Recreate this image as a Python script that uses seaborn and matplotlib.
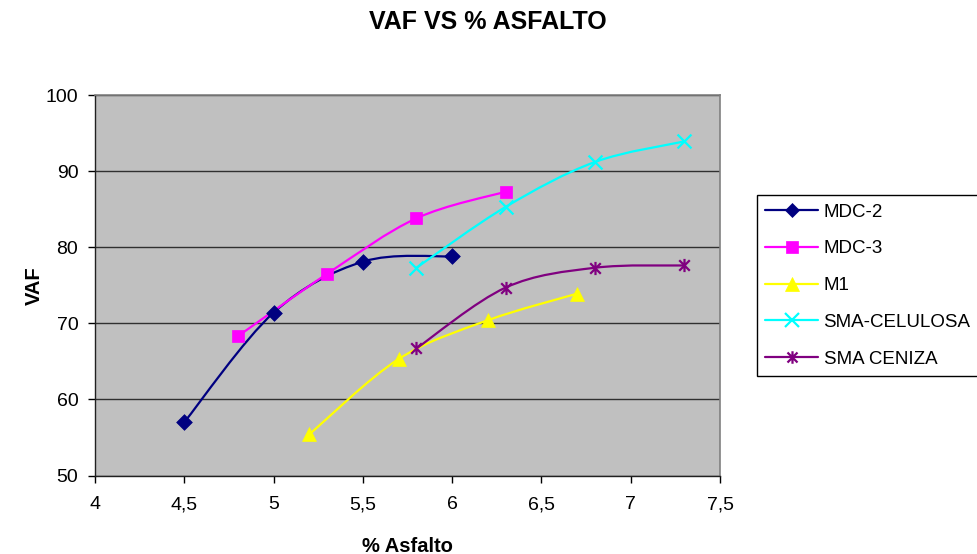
import numpy as np
import pandas as pd
import seaborn as sns
import matplotlib
matplotlib.use("Agg")
import matplotlib.pyplot as plt
from matplotlib.path import Path
from matplotlib.patches import PathPatch
from matplotlib.lines import Line2D

# Data: % asphalt vs VAF for each mix
series_names = ["MDC-2", "MDC-3", "M1", "SMA-CELULOSA", "SMA CENIZA"]
mdc2_x = [4.5, 5.0, 5.5, 6.0]
mdc2_y = [57.0, 71.4, 78.1, 78.8]
mdc3_x = [4.8, 5.3, 5.8, 6.3]
mdc3_y = [68.3, 76.5, 83.8, 87.3]
m1_x = [5.2, 5.7, 6.2, 6.7]
m1_y = [55.4, 65.3, 70.4, 73.9]
celulosa_x = [5.8, 6.3, 6.8, 7.3]
celulosa_y = [77.3, 85.3, 91.2, 93.9]
ceniza_x = [5.8, 6.3, 6.8, 7.3]
ceniza_y = [66.7, 74.7, 77.3, 77.6]

x_ticks = [4, 4.5, 5, 5.5, 6, 6.5, 7, 7.5]
x_tick_labels = ["4", "4,5", "5", "5,5", "6", "6,5", "7", "7,5"]
y_ticks = [50, 60, 70, 80, 90, 100]

xs = [mdc2_x, mdc3_x, m1_x, celulosa_x, ceniza_x]
ys = [mdc2_y, mdc3_y, m1_y, celulosa_y, ceniza_y]

df = pd.concat(
    [pd.DataFrame({"x": x, "y": y, "serie": n}) for n, x, y in zip(series_names, xs, ys)],
    ignore_index=True,
)

colors = {"MDC-2": "#000080", "MDC-3": "#FF00FF", "M1": "#FFFF00",
          "SMA-CELULOSA": "#00FFFF", "SMA CENIZA": "#800080"}

# Star marker: an X crossed by a vertical bar
star = Path([(-1, -1), (1, 1), (-1, 1), (1, -1), (0, -1.25), (0, 1.25)],
            [Path.MOVETO, Path.LINETO, Path.MOVETO, Path.LINETO, Path.MOVETO, Path.LINETO])
markers = {"MDC-2": "D", "MDC-3": "s", "M1": "^", "SMA-CELULOSA": "x", "SMA CENIZA": star}
msizes = {"MDC-2": 8, "MDC-3": 8.5, "M1": 10, "SMA-CELULOSA": 10, "SMA CENIZA": 9.5}
filled_series = ("MDC-2", "MDC-3", "M1")

sns.set_theme(style="white")
plt.rcParams["font.family"] = ["Liberation Sans", "DejaVu Sans"]
plt.rcParams["text.color"] = "black"
plt.rcParams["axes.labelcolor"] = "black"
plt.rcParams["xtick.color"] = "black"
plt.rcParams["ytick.color"] = "black"

W, H = 977, 554
fig = plt.figure(figsize=(W / 100, H / 100), dpi=100)
ax = fig.add_axes([95 / W, 1 - 475.5 / H, 625 / W, 380.5 / H])
ax.set_facecolor("#C0C0C0")


def smooth_path(x, y):
    """Cubic Bezier path through the points (Catmull-Rom style tangents)."""
    p = np.column_stack([x, y]).astype(float)
    verts = [tuple(p[0])]
    codes = [Path.MOVETO]
    n = len(p)
    for i in range(n - 1):
        p0 = p[i - 1] if i > 0 else p[i]
        p1, p2 = p[i], p[i + 1]
        p3 = p[i + 2] if i + 2 < n else p[i + 1]
        c1 = p1 + (p2 - p0) / 6.0
        c2 = p2 - (p3 - p1) / 6.0
        verts += [tuple(c1), tuple(c2), tuple(p2)]
        codes += [Path.CURVE4] * 3
    return Path(verts, codes)


for name, x, y in zip(series_names, xs, ys):
    ax.add_patch(PathPatch(smooth_path(x, y), facecolor="none",
                           edgecolor=colors[name], lw=1.6, zorder=3))

for name in series_names:
    sub = df[df["serie"] == name]
    filled = name in filled_series
    sns.scatterplot(data=sub, x="x", y="y", ax=ax, marker=markers[name],
                    s=msizes[name] ** 2,
                    color=colors[name],
                    edgecolor=colors[name] if filled else None,
                    linewidth=0.5 if filled else 1.6,
                    zorder=4, legend=False)

ax.set_xlim(4, 7.5)
ax.set_ylim(50, 100)
ax.set_xticks(x_ticks)
ax.set_xticklabels(x_tick_labels)
ax.set_yticks(y_ticks)
ax.yaxis.grid(True, color="#303030", lw=1.0)
ax.xaxis.grid(False)
ax.set_axisbelow(True)
ax.tick_params(axis="both", which="major", direction="out", length=5, width=1,
               color="black", labelsize=14, bottom=True, left=True)
ax.tick_params(axis="x", pad=10)
ax.tick_params(axis="y", pad=7)
for side in ("top", "right"):
    ax.spines[side].set_color("#808080")
    ax.spines[side].set_linewidth(1.2)
for side in ("left", "bottom"):
    ax.spines[side].set_color("#202020")
    ax.spines[side].set_linewidth(1.0)

ax.set_xlabel("% Asfalto", fontsize=14.5, fontweight="bold", labelpad=17)
ax.set_ylabel("VAF", fontsize=14.5, fontweight="bold", labelpad=1)
fig.text(488 / W, 1 - 22 / H, "VAF VS % ASFALTO", fontsize=18, fontweight="bold",
         ha="center", va="center")

handles = []
for name in series_names:
    filled = name in filled_series
    handles.append(Line2D([0], [0], color=colors[name], lw=1.6, marker=markers[name],
                          markersize=msizes[name] * 0.95,
                          markerfacecolor=colors[name], markeredgecolor=colors[name],
                          markeredgewidth=0.5 if filled else 1.6))
leg = fig.legend(handles, series_names, loc="upper left",
                 bbox_to_anchor=(757 / W, 1 - 195 / H), fontsize=13.5,
                 frameon=True, fancybox=False, edgecolor="black", framealpha=1,
                 borderpad=0.45, labelspacing=1.05, handlelength=2.8, handletextpad=0.3,
                 borderaxespad=0)
leg.get_frame().set_linewidth(1.0)

fig.savefig("out.png", dpi=100)
